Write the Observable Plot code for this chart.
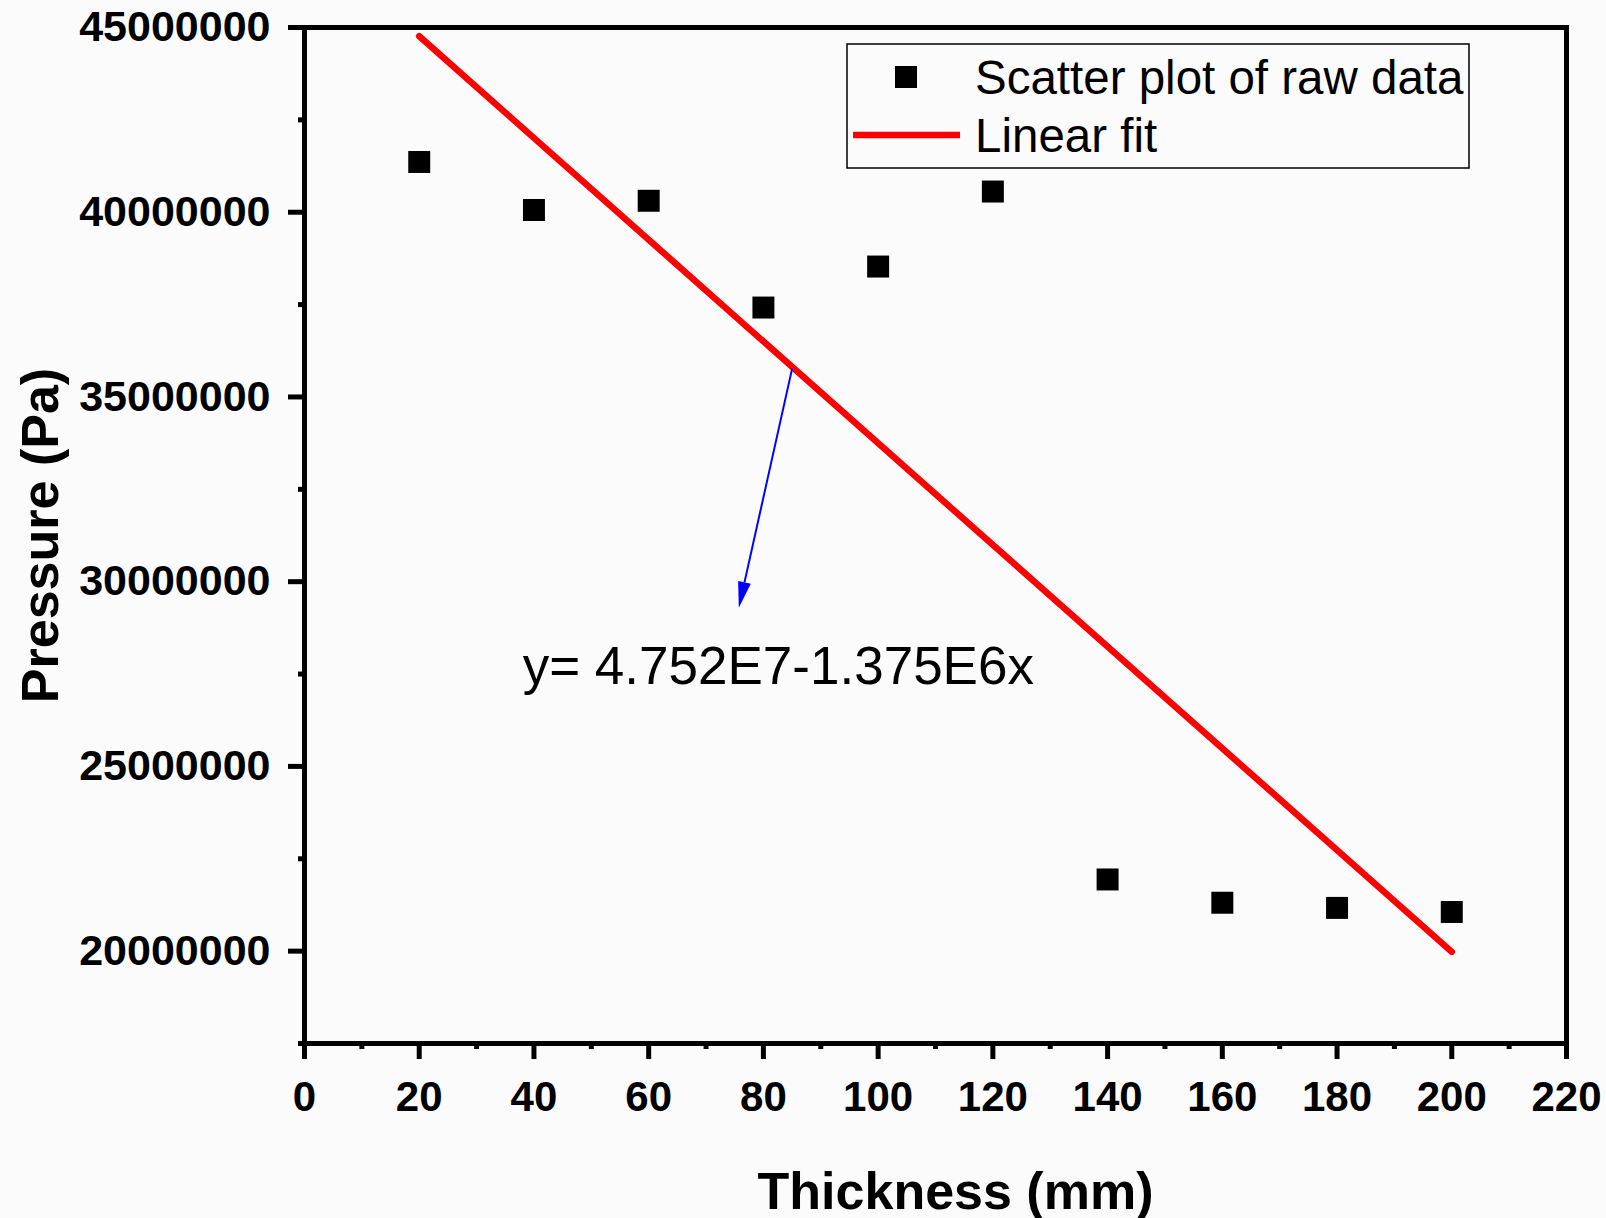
<!DOCTYPE html>
<html><head><meta charset="utf-8">
<script src="https://cdn.jsdelivr.net/npm/d3@7"></script>
<script src="https://cdn.jsdelivr.net/npm/@observablehq/plot@0.6"></script>
<style>
html,body{margin:0;padding:0;background:#fbfbfb;}
#chart svg{display:block;}
</style></head><body><div id="chart"></div>
<script>
// ---- data ----
const thickness = [20, 40, 60, 80, 100, 120, 140, 160, 180, 200];
const pressure = [41.36e6, 40.06e6, 40.31e6, 37.42e6, 38.53e6, 40.56e6, 21.94e6, 21.31e6, 21.17e6, 21.06e6];
const xMajorTicks = [0, 20, 40, 60, 80, 100, 120, 140, 160, 180, 200, 220];
const xMinorTicks = [10, 30, 50, 70, 90, 110, 130, 150, 170, 190, 210];
const yMajorTicks = [20e6, 25e6, 30e6, 35e6, 40e6, 45e6];
const yMinorTicks = [17.5e6, 22.5e6, 27.5e6, 32.5e6, 37.5e6, 42.5e6];
const legendLabels = ["Scatter plot of raw data", "Linear fit"];
const axisLabels = {x: "Thickness (mm)", y: "Pressure (Pa)"};
const equationLabel = "y= 4.752E7-1.375E6x";
const annotationFrom = {x: 85.1, y: 35.76e6};
const annotationTo = {x: 75.8, y: 29.28e6};
const annotationText = {x: 82.6, y: 27.22e6};

const data = thickness.map((t, i) => ({t, p: pressure[i]}));
const FONT = '"Liberation Sans", Arial, Helvetica, sans-serif';

const plot = Plot.plot({
  width: 1606,
  height: 1218,
  marginLeft: 304,
  marginRight: 40,
  marginTop: 27,
  marginBottom: 175,
  style: {fontFamily: FONT, background: "transparent", color: "black", overflow: "visible"},
  x: {domain: [0, 220]},
  y: {domain: [17.5e6, 45e6]},
  marks: [
    Plot.axisY(yMinorTicks, {tickSize: 6, strokeWidth: 5, tickFormat: () => "", label: null}),
    Plot.axisY(yMajorTicks, {tickSize: 16, strokeWidth: 5, tickPadding: 18, fontSize: 43, fontWeight: "bold", tickFormat: d3.format("d"), label: null}),
    Plot.axisX(xMinorTicks, {tickSize: 6, strokeWidth: 5, tickFormat: () => "", label: null}),
    Plot.axisX(xMajorTicks, {tickSize: 16, strokeWidth: 5, tickPadding: 22, fontSize: 42, fontWeight: "bold", tickFormat: d3.format("d"), label: null}),
    Plot.frame({stroke: "black", strokeWidth: 5}),
    Plot.linearRegressionY(data, {x: "t", y: "p", stroke: "#ff0000", strokeWidth: 6.5, ci: 0}),
    Plot.dot(data, {x: "t", y: "p", symbol: "square", r: 12.4, fill: "black"}),
    Plot.text([equationLabel], {x: () => annotationText.x, y: () => annotationText.y, text: d => d, fontSize: 53, textAnchor: "middle", lineAnchor: "bottom", fill: "black"}),
    Plot.text([axisLabels.x], {text: d => d, frameAnchor: "bottom", dx: 20, dy: 149, textAnchor: "middle", lineAnchor: "middle", fontSize: 52, fontWeight: "bold", fill: "black"}),
    Plot.text([axisLabels.y], {text: d => d, frameAnchor: "left", dx: -263, rotate: -90, textAnchor: "middle", lineAnchor: "middle", fontSize: 52, fontWeight: "bold", fill: "black"})
  ]
});

document.getElementById("chart").appendChild(plot);

// ---- annotation arrow (through the plot's scales) ----
const sx = plot.scale("x"), sy = plot.scale("y");
const svg = d3.select(plot);
const x1 = sx.apply(annotationFrom.x), y1 = sy.apply(annotationFrom.y);
const x2 = sx.apply(annotationTo.x), y2 = sy.apply(annotationTo.y);
const ang = Math.atan2(y2 - y1, x2 - x1);
const headLen = 26, headHalf = 6.5;
const bx = x2 - headLen * Math.cos(ang), by = y2 - headLen * Math.sin(ang);
const nx = -Math.sin(ang), ny = Math.cos(ang);
const ga = svg.append("g");
ga.append("line").attr("x1", x1).attr("y1", y1).attr("x2", bx).attr("y2", by)
  .attr("stroke", "#0000ff").attr("stroke-width", 2);
ga.append("path")
  .attr("d", `M${x2},${y2}L${bx + nx * headHalf},${by + ny * headHalf}L${bx - nx * headHalf},${by - ny * headHalf}Z`)
  .attr("fill", "#0000ff");

// ---- legend ----
const lg = svg.append("g").attr("font-family", FONT).attr("text-anchor", "start");
lg.append("rect").attr("x", 847).attr("y", 44).attr("width", 622).attr("height", 124)
  .attr("fill", "none").attr("stroke", "black").attr("stroke-width", 1.5);
lg.append("rect").attr("x", 895).attr("y", 66).attr("width", 22).attr("height", 22).attr("fill", "black");
lg.append("line").attr("x1", 853).attr("x2", 960).attr("y1", 135).attr("y2", 135)
  .attr("stroke", "#ff0000").attr("stroke-width", 6.5);
lg.selectAll("text.l").data(legendLabels).join("text")
  .attr("x", 975).attr("y", (d, i) => 94 + i * 58)
  .attr("text-anchor", "start")
  .attr("font-size", 47.5).attr("fill", "black").text(d => d);
</script>
</body></html>
